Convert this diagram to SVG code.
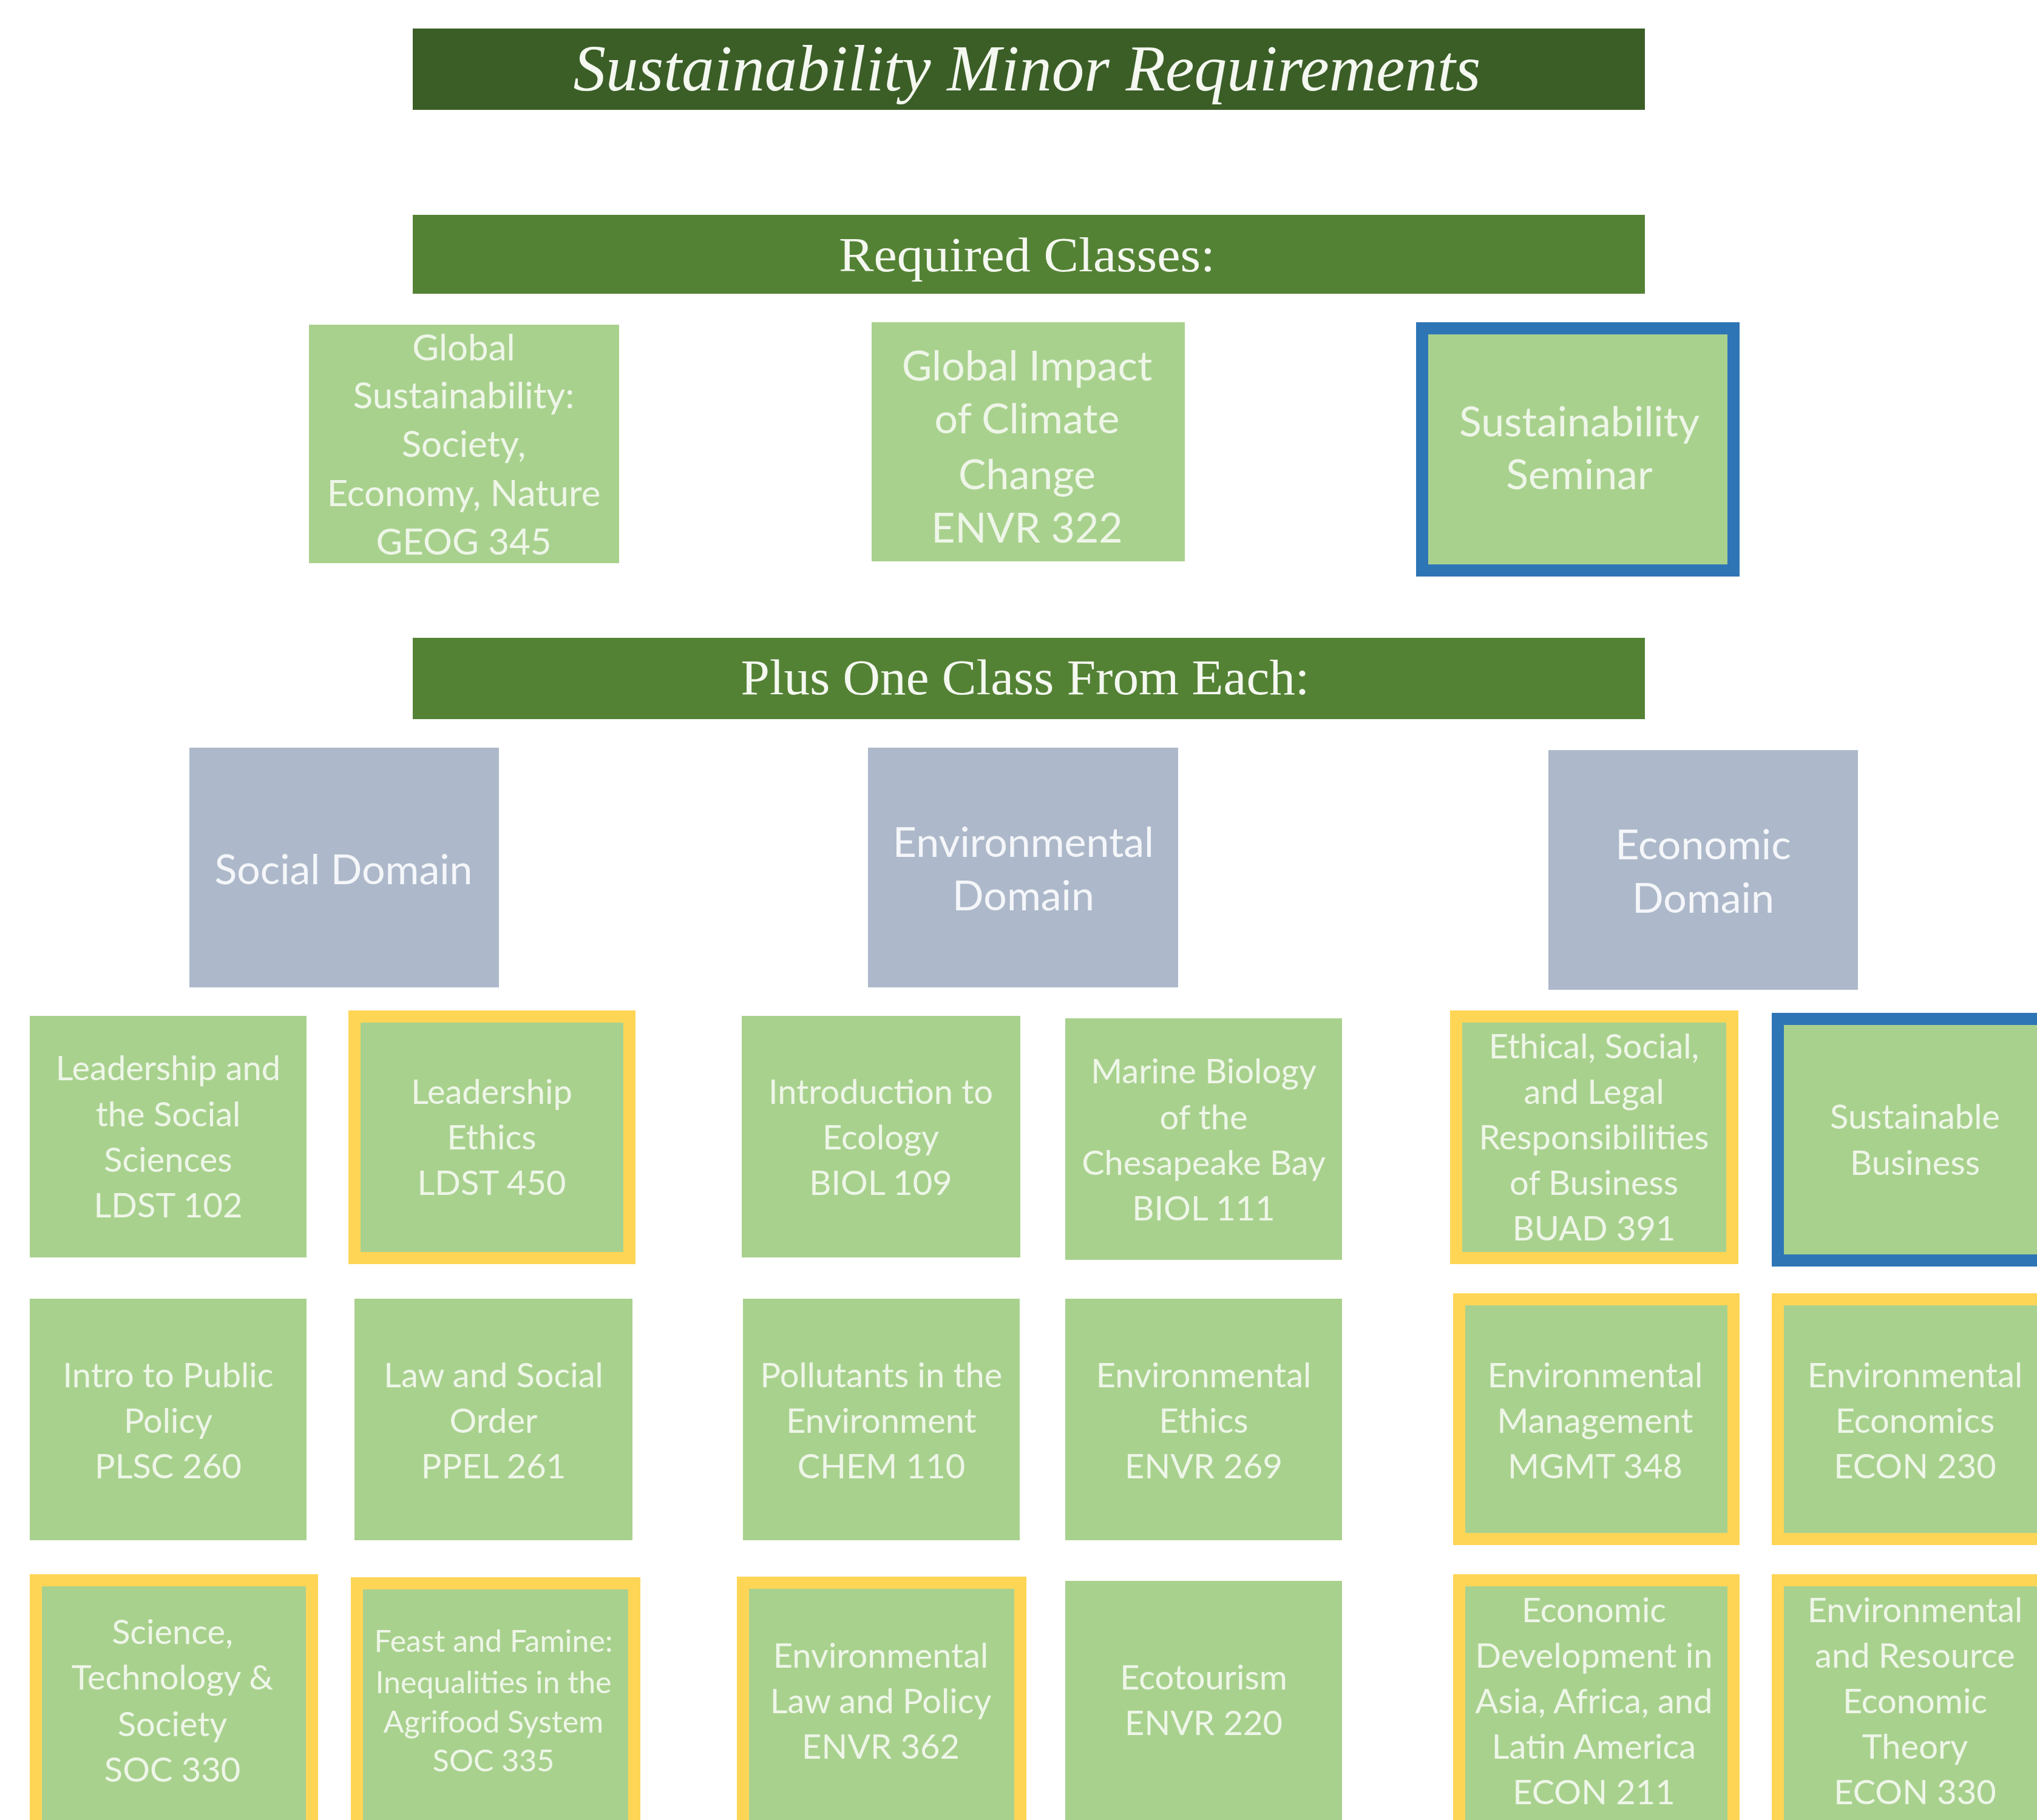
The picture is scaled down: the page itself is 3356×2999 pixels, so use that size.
<svg xmlns="http://www.w3.org/2000/svg" width="3356" height="2999" viewBox="0 0 3356 2999">
<style>
.bar1{fill:#3b5e27}
.bar2{fill:#548235}
.n{fill:#a9d18e}
.d{fill:#adb9ca}
.y{fill:#a9d18e;stroke:#ffd556;stroke-width:20}
.b{fill:#a9d18e;stroke:#2e75b6;stroke-width:20}
.hd{font-family:"Liberation Serif","Times New Roman",serif;fill:#f4f8f0;text-anchor:middle}
.t{font-family:Lato,"Liberation Sans",sans-serif;fill:#eef6e8;text-anchor:middle;font-size:56px}
.tl{font-size:68px}
.tg{font-size:60px}
.ts{font-size:50px}
.td{fill:#f4f6f9}
</style>
<rect width="3356" height="2999" fill="#ffffff"/>
<g id="title">
<rect class="bar1" x="680" y="47" width="2030" height="134"/>
<text class="hd" x="1692" y="149" font-size="108" font-style="italic" textLength="1495" lengthAdjust="spacingAndGlyphs">Sustainability Minor Requirements</text>
</g>
<g id="required-header">
<rect class="bar2" x="680" y="354" width="2030" height="130"/>
<text class="hd" x="1692" y="447" font-size="80" textLength="620" lengthAdjust="spacingAndGlyphs">Required Classes:</text>
</g>
<g id="geog345">
<rect class="n" x="509" y="535" width="511" height="393"/>
<text class="t tg" x="764"><tspan x="764" y="594">Global</tspan><tspan x="764" y="673">Sustainability:</tspan><tspan x="764" y="753">Society,</tspan><tspan x="764" y="834">Economy, Nature</tspan><tspan x="764" y="914">GEOG 345</tspan></text>
</g>
<g id="envr322">
<rect class="n" x="1436" y="531" width="516" height="394"/>
<text class="t tl"><tspan x="1692" y="627">Global Impact</tspan><tspan x="1692" y="714">of Climate</tspan><tspan x="1692" y="806">Change</tspan><tspan x="1692" y="894">ENVR 322</tspan></text>
</g>
<g id="seminar">
<rect class="b" x="2343" y="541" width="513" height="399"/>
<text class="t tl"><tspan x="2602" y="719">Sustainability</tspan><tspan x="2602" y="806">Seminar</tspan></text>
</g>
<g id="plus-header">
<rect class="bar2" x="680" y="1051" width="2030" height="134"/>
<text class="hd" x="1689" y="1144" font-size="82" textLength="937" lengthAdjust="spacingAndGlyphs">Plus One Class From Each:</text>
</g>
<g id="social-domain">
<rect class="d" x="312" y="1232" width="510" height="395"/>
<text class="t tl td"><tspan x="566" y="1457">Social Domain</tspan></text>
</g>
<g id="environmental-domain">
<rect class="d" x="1430" y="1232" width="511" height="395"/>
<text class="t tl td"><tspan x="1686" y="1412">Environmental</tspan><tspan x="1686" y="1500">Domain</tspan></text>
</g>
<g id="economic-domain">
<rect class="d" x="2551" y="1236" width="510" height="395"/>
<text class="t tl td"><tspan x="2806" y="1416">Economic</tspan><tspan x="2806" y="1504">Domain</tspan></text>
</g>
<g id="ldst102">
<rect class="n" x="49" y="1674" width="456" height="398"/>
<text class="t"><tspan x="277" y="1780">Leadership and</tspan><tspan x="277" y="1856">the Social</tspan><tspan x="277" y="1931">Sciences</tspan><tspan x="277" y="2006">LDST 102</tspan></text>
</g>
<g id="ldst450">
<rect class="y" x="584" y="1675" width="453" height="398"/>
<text class="t"><tspan x="810" y="1819">Leadership</tspan><tspan x="810" y="1894">Ethics</tspan><tspan x="810" y="1969">LDST 450</tspan></text>
</g>
<g id="biol109">
<rect class="n" x="1222" y="1674" width="459" height="398"/>
<text class="t"><tspan x="1451" y="1819">Introduction to</tspan><tspan x="1451" y="1894">Ecology</tspan><tspan x="1451" y="1969">BIOL 109</tspan></text>
</g>
<g id="biol111">
<rect class="n" x="1755" y="1678" width="456" height="398"/>
<text class="t"><tspan x="1983" y="1785">Marine Biology</tspan><tspan x="1983" y="1861">of the</tspan><tspan x="1983" y="1936">Chesapeake Bay</tspan><tspan x="1983" y="2011">BIOL 111</tspan></text>
</g>
<g id="buad391">
<rect class="y" x="2399" y="1675" width="455" height="398"/>
<text class="t"><tspan x="2626" y="1744">Ethical, Social,</tspan><tspan x="2626" y="1819">and Legal</tspan><tspan x="2626" y="1894">Responsibilities</tspan><tspan x="2626" y="1969">of Business</tspan><tspan x="2626" y="2044">BUAD 391</tspan></text>
</g>
<g id="sustainable-business">
<rect class="b" x="2929" y="1679" width="500" height="398"/>
<text class="t"><tspan x="3155" y="1860">Sustainable</tspan><tspan x="3155" y="1936">Business</tspan></text>
</g>
<g id="plsc260">
<rect class="n" x="49" y="2140" width="456" height="398"/>
<text class="t"><tspan x="277" y="2286">Intro to Public</tspan><tspan x="277" y="2361">Policy</tspan><tspan x="277" y="2436">PLSC 260</tspan></text>
</g>
<g id="ppel261">
<rect class="n" x="584" y="2140" width="458" height="398"/>
<text class="t"><tspan x="813" y="2286">Law and Social</tspan><tspan x="813" y="2361">Order</tspan><tspan x="813" y="2436">PPEL 261</tspan></text>
</g>
<g id="chem110">
<rect class="n" x="1224" y="2140" width="456" height="398"/>
<text class="t"><tspan x="1452" y="2286">Pollutants in the</tspan><tspan x="1452" y="2361">Environment</tspan><tspan x="1452" y="2436">CHEM 110</tspan></text>
</g>
<g id="envr269">
<rect class="n" x="1755" y="2140" width="456" height="398"/>
<text class="t"><tspan x="1983" y="2286">Environmental</tspan><tspan x="1983" y="2361">Ethics</tspan><tspan x="1983" y="2436">ENVR 269</tspan></text>
</g>
<g id="mgmt348">
<rect class="y" x="2404" y="2141" width="452" height="395"/>
<text class="t"><tspan x="2628" y="2286">Environmental</tspan><tspan x="2628" y="2361">Management</tspan><tspan x="2628" y="2436">MGMT 348</tspan></text>
</g>
<g id="econ230">
<rect class="y" x="2929" y="2141" width="500" height="395"/>
<text class="t"><tspan x="3155" y="2286">Environmental</tspan><tspan x="3155" y="2361">Economics</tspan><tspan x="3155" y="2436">ECON 230</tspan></text>
</g>
<g id="soc330">
<rect class="y" x="59" y="2604" width="455" height="500"/>
<text class="t"><tspan x="284" y="2709">Science,</tspan><tspan x="284" y="2784">Technology &amp;</tspan><tspan x="284" y="2861">Society</tspan><tspan x="284" y="2936">SOC 330</tspan></text>
</g>
<g id="soc335">
<rect class="y" x="588" y="2609" width="457" height="500"/>
<text class="t ts"><tspan x="813" y="2722">Feast and Famine:</tspan><tspan x="813" y="2790">Inequalities in the</tspan><tspan x="813" y="2855">Agrifood System</tspan><tspan x="813" y="2919">SOC 335</tspan></text>
</g>
<g id="envr362">
<rect class="y" x="1224" y="2608" width="457" height="500"/>
<text class="t"><tspan x="1451" y="2748">Environmental</tspan><tspan x="1451" y="2823">Law and Policy</tspan><tspan x="1451" y="2898">ENVR 362</tspan></text>
</g>
<g id="envr220">
<rect class="n" x="1755" y="2605" width="456" height="500"/>
<text class="t"><tspan x="1983" y="2784">Ecotourism</tspan><tspan x="1983" y="2859">ENVR 220</tspan></text>
</g>
<g id="econ211">
<rect class="y" x="2404" y="2604" width="452" height="500"/>
<text class="t"><tspan x="2626" y="2673">Economic</tspan><tspan x="2626" y="2748">Development in</tspan><tspan x="2626" y="2823">Asia, Africa, and</tspan><tspan x="2626" y="2898">Latin America</tspan><tspan x="2626" y="2973">ECON 211</tspan></text>
</g>
<g id="econ330">
<rect class="y" x="2929" y="2604" width="500" height="500"/>
<text class="t"><tspan x="3155" y="2673">Environmental</tspan><tspan x="3155" y="2748">and Resource</tspan><tspan x="3155" y="2823">Economic</tspan><tspan x="3155" y="2898">Theory</tspan><tspan x="3155" y="2973">ECON 330</tspan></text>
</g>
<g id="connectors"/>
</svg>
